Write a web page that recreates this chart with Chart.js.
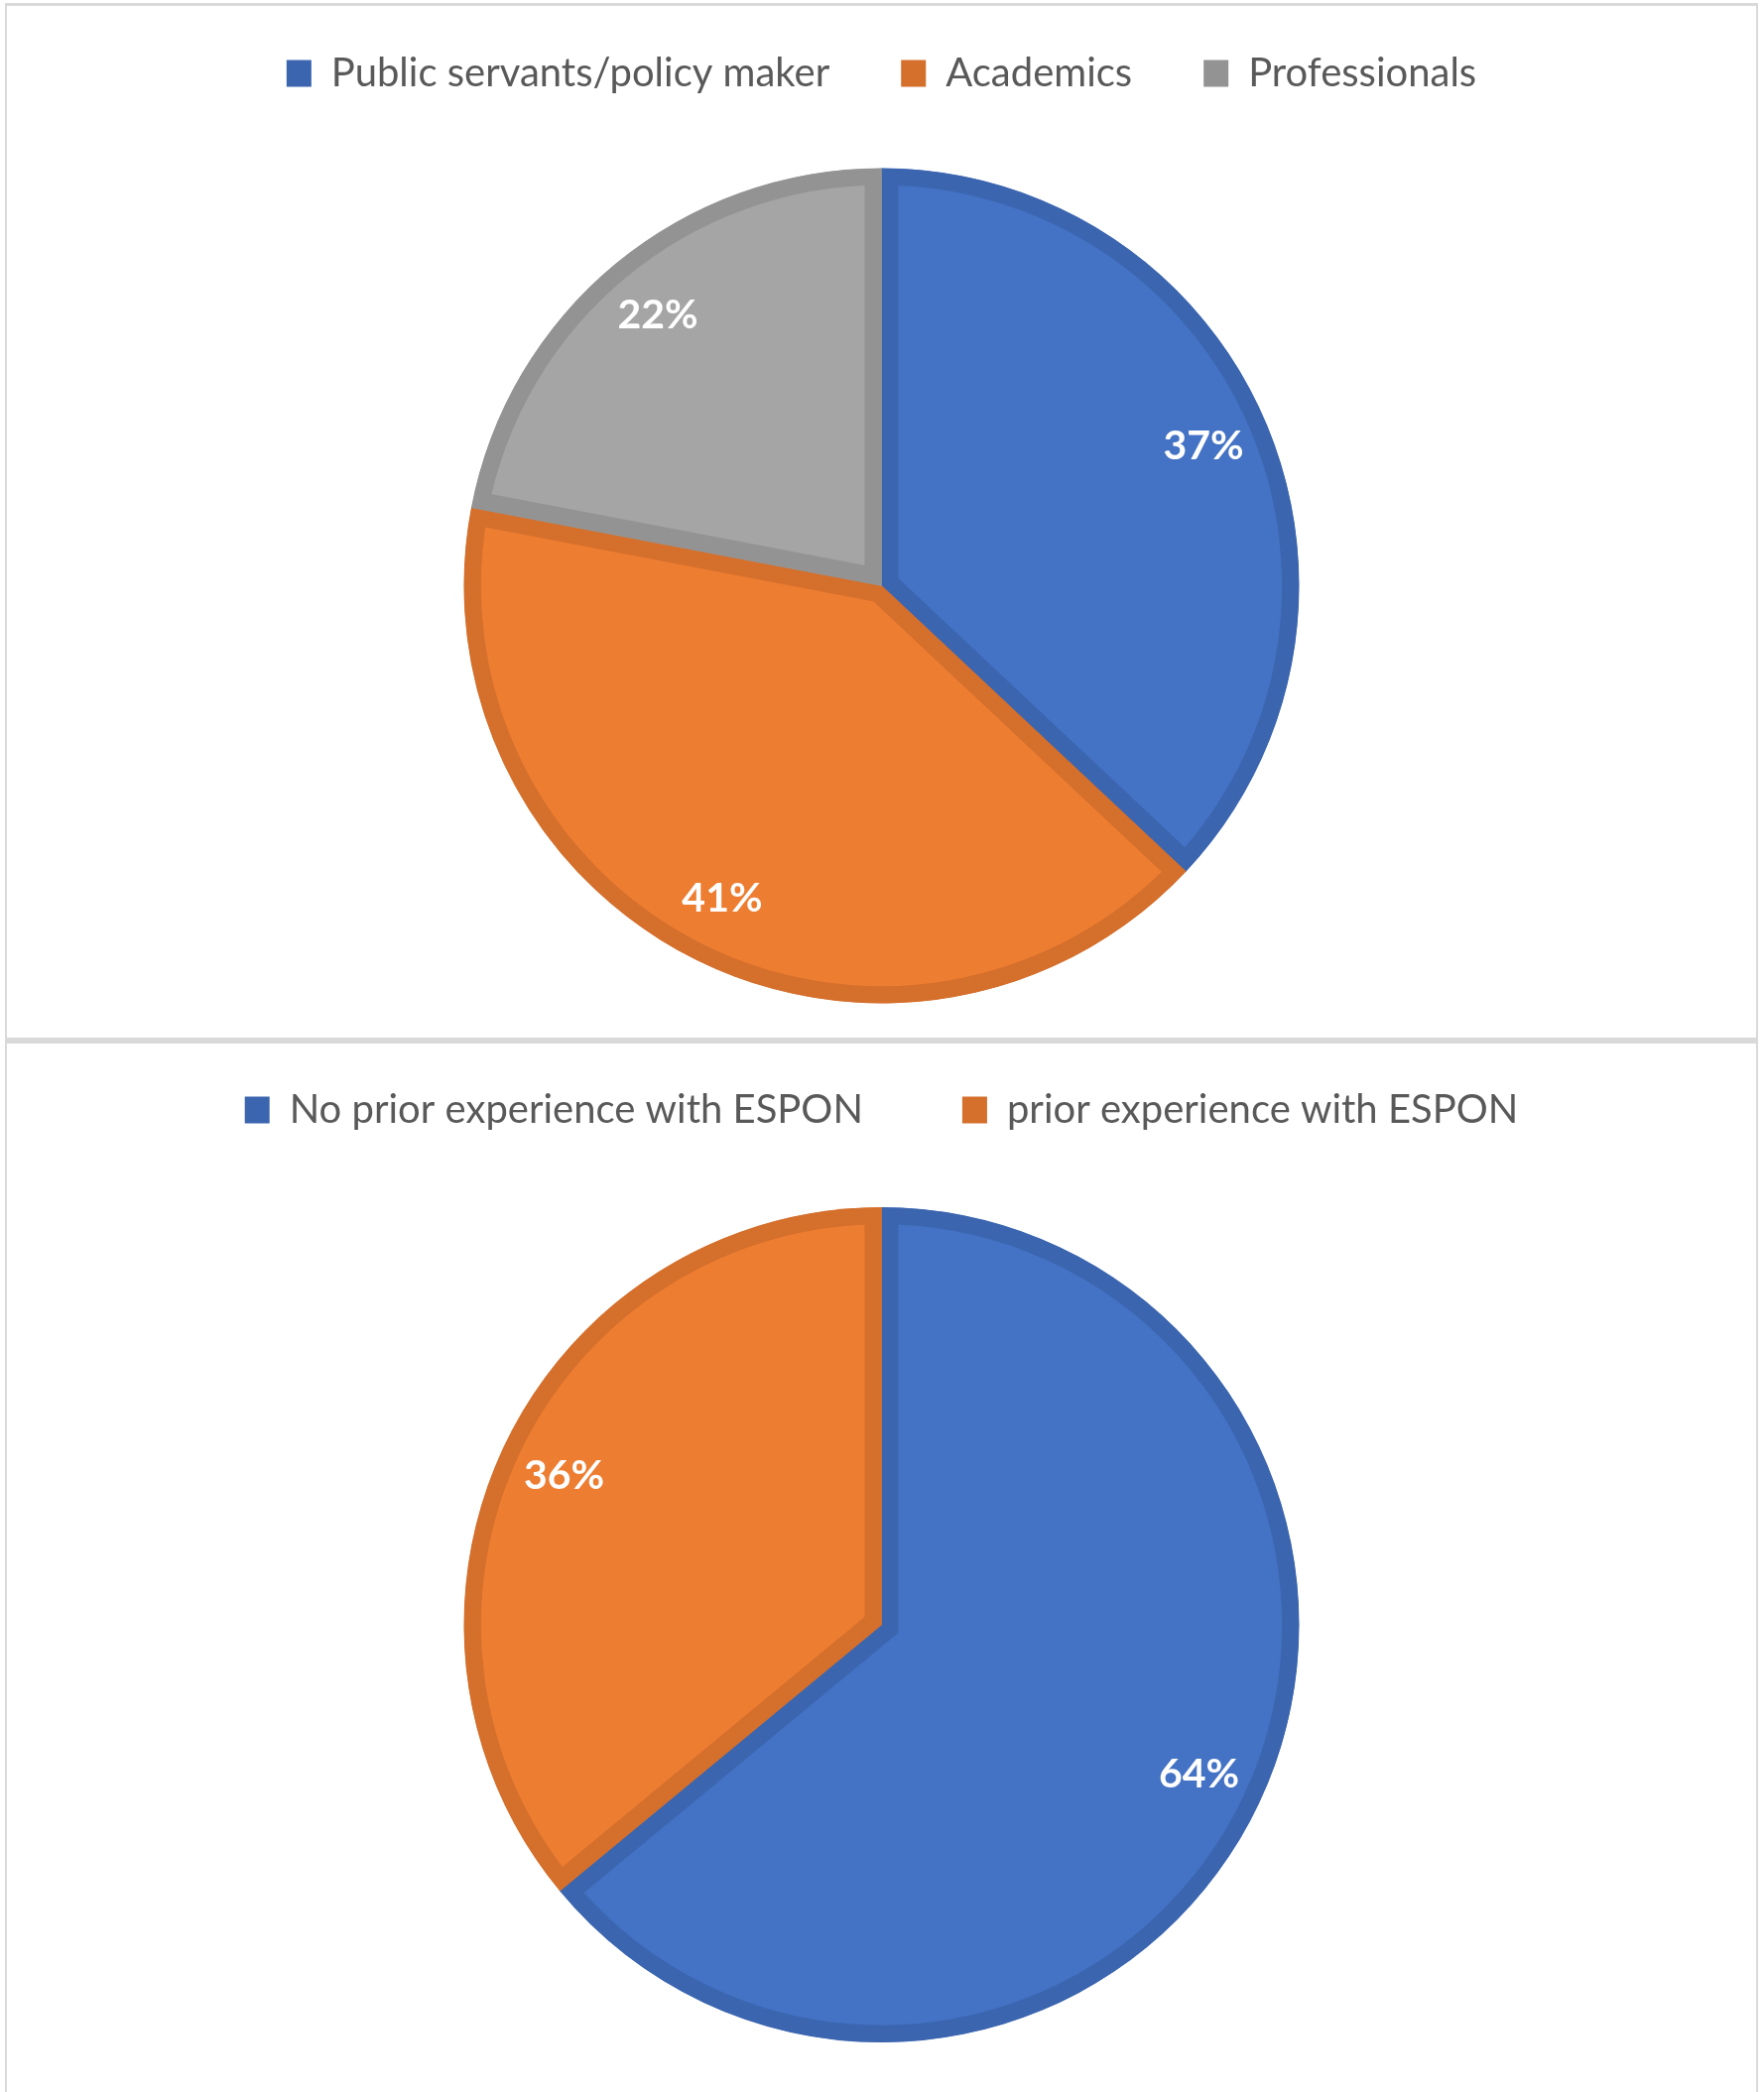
<!DOCTYPE html>
<html lang="en">

<head>
  <meta charset="UTF-8">
  <title>Respondents</title>
  <script src="https://cdn.jsdelivr.net/npm/chart.js@4.4.1/dist/chart.umd.min.js"></script>
  <style>
    html, body { margin: 0; padding: 0; background: #fff; overflow: hidden; }
    body { width: 1778px; height: 2109px; position: relative; }
    .panel {
      position: absolute;
      left: 5px;
      width: 1767px;
      box-sizing: border-box;
      border: solid #d9d9d9;
      border-width: 3px 2px;
    }
    #panel1 { top: 3px; height: 1046px; }
    #panel2 { top: 1049px; height: 1080px; }
  </style>
</head>

<body>
  <div class="panel" id="panel1"><canvas id="chart1"></canvas></div>
  <div class="panel" id="panel2"><canvas id="chart2"></canvas></div>

  <script>
    const roleLabels = ['Public servants/policy maker', 'Academics', 'Professionals'];
    const roleShares = [37, 41, 22];

    const esponLabels = ['No prior experience with ESPON', 'prior experience with ESPON'];
    const esponShares = [64, 36];

    const fills = ['#4472C4', '#ED7D31', '#A5A5A5'];
    const strokes = ['#3B65AF', '#D46F2C', '#939393'];

    // push the pie down below the legend
    const legendHeight = {
      id: 'legendHeight',
      beforeInit(chart, args, opts) {
        const fit = chart.legend.fit;
        chart.legend.fit = function () {
          fit.bind(chart.legend)();
          this.height = opts.height;
        };
      }
    };

    // white percentage labels inside the slices
    const sliceLabels = {
      id: 'sliceLabels',
      afterDatasetsDraw(chart) {
        const ctx = chart.ctx;
        const meta = chart.getDatasetMeta(0);
        const values = chart.data.datasets[0].data;
        ctx.save();
        ctx.font = 'bold 41px Lato';
        ctx.fillStyle = '#ffffff';
        ctx.textAlign = 'center';
        ctx.textBaseline = 'middle';
        meta.data.forEach((arc, i) => {
          const p = arc.getProps(['x', 'y', 'startAngle', 'endAngle', 'outerRadius']);
          const mid = (p.startAngle + p.endAngle) / 2;
          const r = p.outerRadius * 0.84;
          ctx.fillText(values[i] + '%', p.x + Math.cos(mid) * r, p.y + Math.sin(mid) * r);
        });
        ctx.restore();
      }
    };

    function makePie(id, labels, values, pad, legendPad, legendH) {
      const ctx = document.getElementById(id).getContext('2d');
      return new Chart(ctx, {
        type: 'pie',
        data: {
          labels: labels,
          datasets: [{
            data: values,
            backgroundColor: fills.slice(0, values.length),
            borderColor: strokes.slice(0, values.length),
            borderWidth: 17,
            borderAlign: 'inner',
            borderJoinStyle: 'miter',
            radius: 421
          }]
        },
        options: {
          responsive: true,
          maintainAspectRatio: false,
          animation: false,
          layout: { padding: pad },
          plugins: {
            tooltip: { enabled: false },
            legendHeight: { height: legendH },
            legend: {
              position: 'top',
              labels: {
                color: '#595959',
                font: { family: 'Lato', size: 40 },
                boxWidth: 25,
                boxHeight: 27,
                padding: legendPad,
                generateLabels(chart) {
                  const items = Chart.overrides.pie.plugins.legend.labels.generateLabels(chart);
                  return items.map((item, i) => Object.assign(item, {
                    fillStyle: strokes[i],
                    lineWidth: 0
                  }));
                }
              }
            }
          }
        },
        plugins: [legendHeight, sliceLabels]
      });
    }

    const chart1 = makePie('chart1', roleLabels, roleShares, { top: -24, bottom: 35 }, 72, 188);
    const chart2 = makePie('chart2', esponLabels, esponShares, { top: -53, bottom: 68 }, 100, 219);
  </script>
</body>

</html>
